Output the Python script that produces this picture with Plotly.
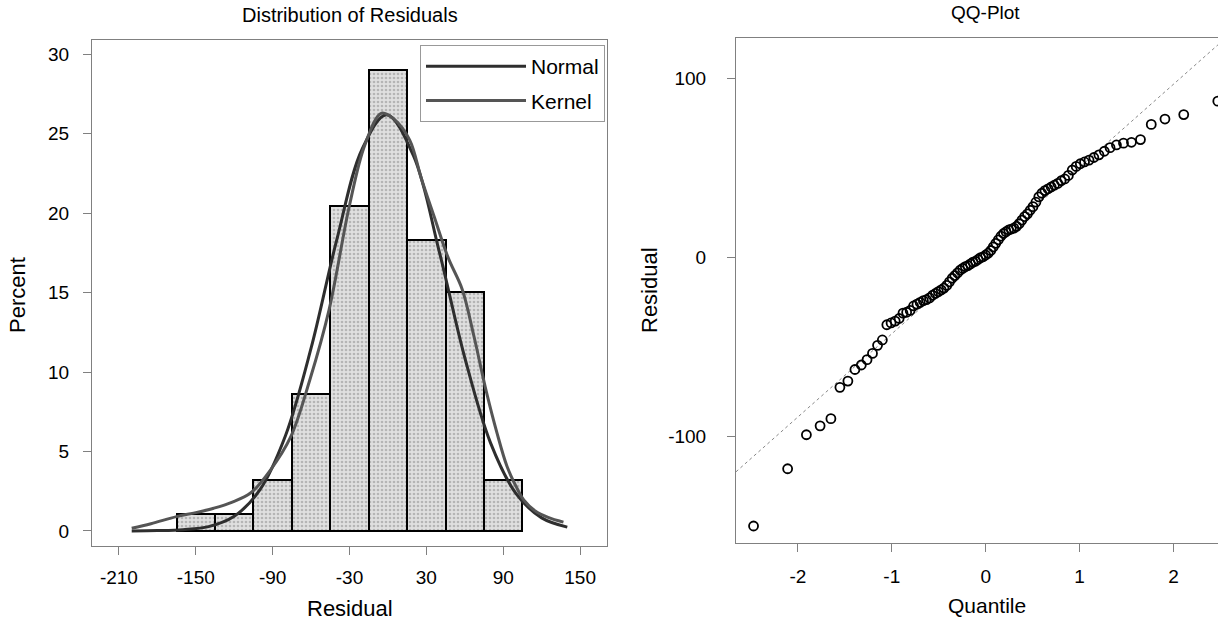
import plotly.graph_objects as go

# ---------------- data ----------------
bin_centers = [-150, -120, -90, -60, -30, 0, 30, 60, 90]
bin_percent = [1.08, 1.08, 3.23, 8.60, 20.43, 29.03, 18.28, 15.05, 3.23]

normal_x = [-200, -180, -160, -140, -120, -100, -80, -60, -40, -20, -1, 20, 40, 60, 80, 100, 120, 140]
normal_y = [0.0, 0.02, 0.08, 0.27, 0.92, 2.58, 5.99, 11.5, 18.3, 24.06, 26.2, 23.6, 17.6, 10.9, 5.56, 2.35, 0.82, 0.24]

kernel_x = [-200, -185, -165, -150, -136, -122, -107, -92, -76, -61, -46, -30, -18, -5, 5, 17, 26, 36, 47, 58, 67, 77, 85, 93, 100, 106, 115, 125, 137]
kernel_y = [0.17, 0.45, 0.9, 1.15, 1.43, 1.8, 2.4, 3.8, 5.9, 9.5, 13.9, 20.5, 24.3, 26.3, 25.9, 24.6, 22.2, 19.8, 17.2, 15.2, 12.3, 8.7, 6.2, 4.05, 2.8, 1.95, 1.25, 0.85, 0.55]

qq_quantile = [-2.473, -2.110, -1.910, -1.764, -1.649, -1.553, -1.468, -1.393, -1.325, -1.264,
               -1.206, -1.152, -1.101, -1.053, -1.008, -0.964, -0.922, -0.881, -0.842, -0.805,
               -0.768, -0.732, -0.698, -0.664, -0.631, -0.598, -0.566, -0.535, -0.504, -0.474,
               -0.445, -0.415, -0.386, -0.357, -0.329, -0.300, -0.273, -0.245, -0.217, -0.190,
               -0.162, -0.135, -0.108, -0.081, -0.054, -0.027, 0.0, 0.027, 0.054, 0.081,
               0.108, 0.135, 0.162, 0.190, 0.217, 0.245, 0.273, 0.300, 0.329, 0.357,
               0.386, 0.415, 0.445, 0.474, 0.504, 0.535, 0.566, 0.598, 0.631, 0.664,
               0.698, 0.732, 0.768, 0.805, 0.842, 0.881, 0.922, 0.964, 1.008, 1.053,
               1.101, 1.152, 1.206, 1.264, 1.325, 1.393, 1.468, 1.553, 1.649, 1.764,
               1.910, 2.110, 2.473]
qq_residual = [-150, -118, -99, -94, -90, -72.5, -69, -62.5, -60, -57,
               -53.5, -49, -46, -37.5, -36.5, -35.5, -34, -31, -30.5, -29.5,
               -27, -26, -25, -24, -23.5, -22.5, -21, -20, -19, -18,
               -17, -15.5, -13.5, -11.5, -10, -8.5, -7, -6, -5, -4.5,
               -3.5, -2.5, -2, -1, 0, 0.5, 1.5, 2.5, 4, 6,
               8, 10, 12, 13.5, 14.5, 15.5, 16, 16.5, 17.5, 19,
               21, 23, 24.5, 26.5, 28.5, 31, 34, 36, 37.5, 38.5,
               39.5, 40.5, 41.5, 43, 44, 46, 49, 51, 52.5, 53.5,
               54.5, 56, 57.5, 59.5, 61.5, 63, 64, 64.5, 66, 74.5,
               77.5, 80, 87.5]

ref_line_q = [-2.66, 2.475]
ref_line_y = [-119.7, 119.0]

left_xticks = [-210, -150, -90, -30, 30, 90, 150]
left_xticklabels = ["-210", "-150", "-90", "-30", "30", "90", "150"]
left_yticks = [0, 5, 10, 15, 20, 25, 30]
left_yticklabels = ["0", "5", "10", "15", "20", "25", "30"]
right_xticks = [-2, -1, 0, 1, 2]
right_xticklabels = ["-2", "-1", "0", "1", "2"]
right_yticks = [-100, 0, 100]
right_yticklabels = ["-100", "0", "100"]

FONT = "Liberation Sans"
W, H = 1218, 623

fig = go.Figure()

fig.add_trace(go.Bar(
    x=bin_centers, y=bin_percent, width=30,
    marker=dict(color="#d8d8d8", line=dict(color="black", width=2),
                pattern=dict(shape=".", fgcolor="#8a8a8a", bgcolor="#e0e0e0", size=4, solidity=0.35)),
    showlegend=False, xaxis="x", yaxis="y"))

fig.add_trace(go.Scatter(
    x=normal_x, y=normal_y, mode="lines", name="Normal", legendgroup="n",
    line=dict(color="#2e2e2e", width=3, shape="spline"), xaxis="x", yaxis="y"))
fig.add_trace(go.Scatter(
    x=kernel_x, y=kernel_y, mode="lines", name="Kernel", legendgroup="k",
    line=dict(color="#555555", width=3, shape="spline"), xaxis="x", yaxis="y"))

fig.add_trace(go.Scatter(
    x=ref_line_q, y=ref_line_y, mode="lines", showlegend=False,
    line=dict(color="#888888", width=1, dash="dot"), xaxis="x2", yaxis="y2"))
fig.add_trace(go.Scatter(
    x=qq_quantile, y=qq_residual, mode="markers", showlegend=False,
    marker=dict(symbol="circle-open", size=9, color="black", line=dict(width=1.8)),
    xaxis="x2", yaxis="y2"))

axis_common = dict(showgrid=False, zeroline=False, showline=True, linecolor="#808080", linewidth=1,
                   mirror=True, ticks="outside", ticklen=8, tickcolor="#808080",
                   tickfont=dict(family=FONT, size=19, color="black"))

fig.update_layout(
    width=W, height=H, margin=dict(l=0, r=0, t=0, b=0),
    paper_bgcolor="white", plot_bgcolor="white",
    bargap=0,
    xaxis=dict(domain=[92 / W, 607 / W], range=[-231, 171], tickvals=left_xticks, ticktext=left_xticklabels,
               ticklabelstandoff=6, anchor="y", **axis_common),
    yaxis=dict(domain=[1 - 546 / H, 1 - 40 / H], range=[-0.95, 30.9], tickvals=left_yticks, ticktext=left_yticklabels,
               ticklabelstandoff=10, anchor="x", **axis_common),
    xaxis2=dict(domain=[736 / W, 1.0], range=[-2.66, 2.475], tickvals=right_xticks, ticktext=right_xticklabels,
                ticklabelstandoff=8, anchor="y2", **axis_common),
    yaxis2=dict(domain=[1 - 543 / H, 1 - 38 / H], range=[-159.5, 122.8], tickvals=right_yticks, ticktext=right_yticklabels,
                ticklabelstandoff=17, anchor="x2", **axis_common),
    legend=dict(x=605 / W, y=1 - 45 / H, xanchor="right", yanchor="top",
                bordercolor="#999999", borderwidth=1, bgcolor="white",
                font=dict(family=FONT, size=21, color="black"), itemwidth=100,
                traceorder="grouped", tracegroupgap=4),
    font=dict(family=FONT, color="black"),
)

annots = [
    dict(text="Distribution of Residuals", x=350 / W, y=1 - 15 / H, size=20, angle=0),
    dict(text="QQ-Plot", x=985 / W, y=1 - 13 / H, size=19, angle=0),
    dict(text="Residual", x=350 / W, y=1 - 608 / H, size=22, angle=0),
    dict(text="Percent", x=18 / W, y=1 - 295 / H, size=22, angle=-90),
    dict(text="Quantile", x=987 / W, y=1 - 605 / H, size=21, angle=0),
    dict(text="Residual", x=649 / W, y=1 - 290 / H, size=22, angle=-90),
]
for a in annots:
    fig.add_annotation(text=a["text"], x=a["x"], y=a["y"], xref="paper", yref="paper",
                       showarrow=False, xanchor="center", yanchor="middle", textangle=a["angle"],
                       font=dict(family=FONT, size=a["size"], color="black"))

fig.write_html("out.html")
